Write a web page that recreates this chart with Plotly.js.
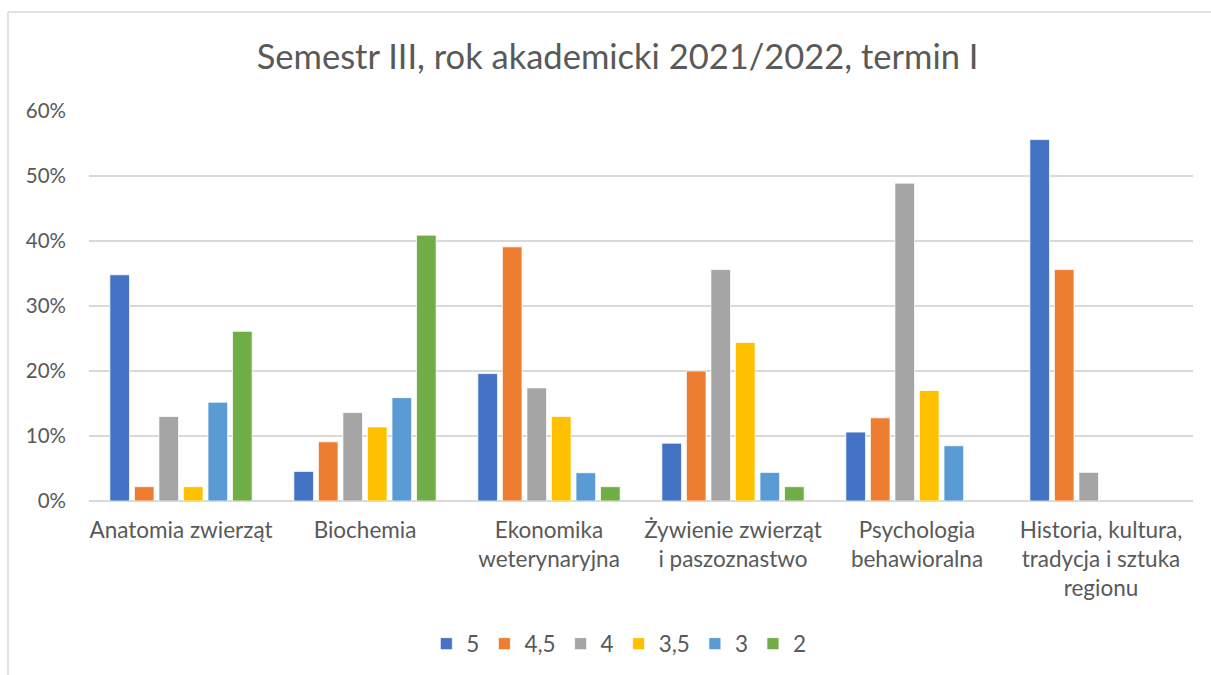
<!DOCTYPE html>
<html>
<head>
<meta charset="utf-8">
<script src="https://cdn.plot.ly/plotly-3.0.1.min.js"></script>
<style>
  html, body { margin: 0; padding: 0; background: #ffffff; }
  #chart { width: 1211px; height: 675px; }
</style>
</head>
<body>
<div id="chart"></div>
<script>
// Categories (subjects)
const categories = [
  "Anatomia zwierząt",
  "Biochemia",
  "Ekonomika<br>weterynaryjna",
  "Żywienie zwierząt<br>i paszoznastwo",
  "Psychologia<br>behawioralna",
  "Historia, kultura,<br>tradycja i sztuka<br>regionu"
];

// Series: grade -> share of students per subject
const seriesNames = ["5", "4,5", "4", "3,5", "3", "2"];
const grade5   = [0.348, 0.0455, 0.196, 0.089, 0.106, 0.556];
const grade45  = [0.022, 0.091, 0.391, 0.200, 0.128, 0.356];
const grade4   = [0.130, 0.136, 0.174, 0.356, 0.489, 0.044];
const grade35  = [0.022, 0.114, 0.130, 0.244, 0.170, null];
const grade3   = [0.152, 0.159, 0.0435, 0.044, 0.085, null];
const grade2   = [0.261, 0.409, 0.022, 0.022, null, null];

const seriesValues = [grade5, grade45, grade4, grade35, grade3, grade2];
const seriesColors = ["#4472C4", "#ED7D31", "#A5A5A5", "#FFC000", "#5B9BD5", "#70AD47"];

const yTickVals = [0, 0.1, 0.2, 0.3, 0.4, 0.5, 0.6];
const yTickText = ["0%", "10%", "20%", "30%", "40%", "50%", "60%"];

const FONT = "Lato, 'Open Sans', sans-serif";
const TEXT = "#595959";

const traces = seriesNames.map((name, i) => ({
  type: "bar",
  name: name,
  x: categories,
  y: seriesValues[i],
  marker: { color: seriesColors[i], line: { color: "#ffffff", width: 0.75 } },
  hoverinfo: "x+y+name"
}));

// Geometry of the plot area in pixels
const W = 1211, H = 675;
const mL = 89, mR = 18, mT = 111, mB = 174;
const pw = W - mL - mR, ph = H - mT - mB;
const px = v => (v - mL) / pw;
const py = v => (H - mB - v) / ph;

const layout = {
  width: W,
  height: H,
  margin: { l: mL, r: mR, t: mT, b: mB, pad: 0 },
  paper_bgcolor: "#ffffff",
  plot_bgcolor: "#ffffff",
  font: { family: FONT, color: TEXT, size: 22 },
  title: {
    text: "Semestr III, rok akademicki 2021/2022, termin I",
    font: { family: FONT, size: 34.5, color: TEXT },
    x: 0.51, xref: "container", xanchor: "center",
    y: 1 - 57 / H, yref: "container", yanchor: "middle"
  },
  barmode: "group",
  bargap: 0.2,
  bargroupgap: 0.2,
  xaxis: {
    type: "category",
    showgrid: false,
    showline: false,
    zeroline: false,
    ticks: "",
    tickfont: { family: FONT, size: 22.5, color: TEXT },
    ticklabelstandoff: 13,
    fixedrange: true
  },
  yaxis: {
    range: [0, 0.6],
    tickvals: yTickVals,
    ticktext: yTickText,
    showgrid: true,
    gridcolor: "#D9D9D9",
    gridwidth: 1.3,
    zeroline: true,
    zerolinecolor: "#D9D9D9",
    zerolinewidth: 1.5,
    showline: false,
    ticks: "",
    tickfont: { family: FONT, size: 20.5, color: TEXT },
    ticklabelstandoff: 22,
    fixedrange: true
  },
  showlegend: true,
  legend: {
    orientation: "h",
    xref: "container", yref: "container",
    x: 0.511, xanchor: "center",
    y: 1 - 644 / H, yanchor: "middle",
    font: { family: FONT, size: 22.5, color: TEXT },
    traceorder: "normal",
    itemclick: false, itemdoubleclick: false
  },
  shapes: [
    { type: "line", xref: "paper", yref: "paper",
      x0: px(8), x1: px(8), y0: py(12), y1: py(H + 5),
      line: { color: "#D9D9D9", width: 1.5 } },
    { type: "line", xref: "paper", yref: "paper",
      x0: px(8), x1: px(W + 5), y0: py(12), y1: py(12),
      line: { color: "#D9D9D9", width: 1.5 } }
  ]
};

Plotly.newPlot("chart", traces, layout, { displayModeBar: false, staticPlot: true });
</script>
</body>
</html>
